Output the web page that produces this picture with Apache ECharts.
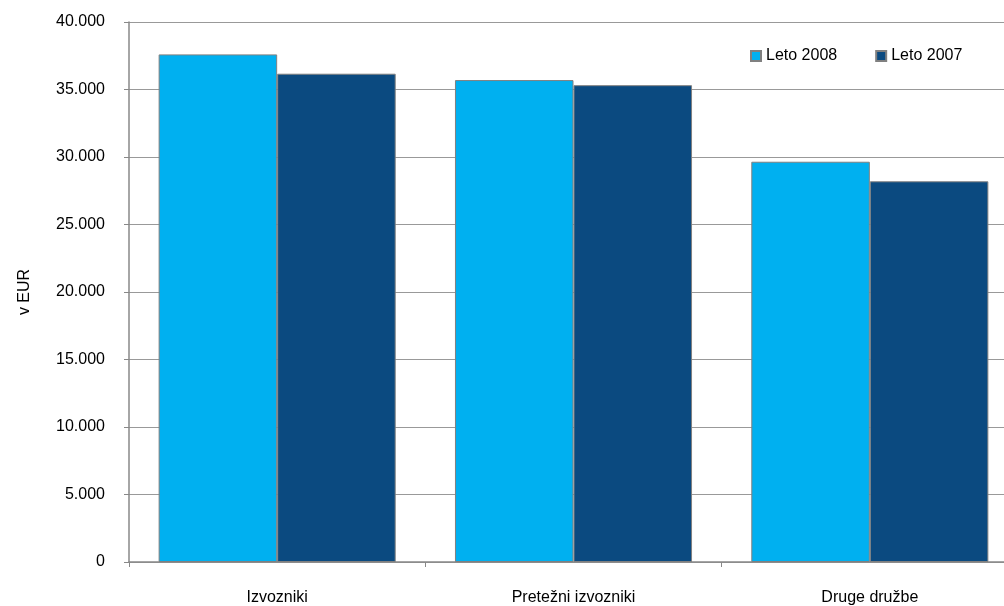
<!DOCTYPE html>
<html>
<head>
<meta charset="utf-8">
<script src="https://cdn.jsdelivr.net/npm/echarts@6/dist/echarts.min.js"></script>
<style>
html,body{margin:0;padding:0;background:#fff;overflow:hidden;width:1004px;height:606px;}
#chart{width:1018px;height:606px;}
</style>
</head>
<body>
<div id="chart"></div>
<script>
var categories = ['Izvozniki', 'Pretežni izvozniki', 'Druge družbe'];
var seriesNames = ['Leto 2008', 'Leto 2007'];
var values2008 = [37600, 35700, 29650];
var values2007 = [36170, 35320, 28200];
var yTicks = { min: 0, max: 40000, interval: 5000 };

var FONT = '"Liberation Sans", Arial, sans-serif';

function fmt(v) {
  return String(v).replace(/\B(?=(\d{3})+(?!\d))/g, '.');
}

var chart = echarts.init(document.getElementById('chart'), null, { renderer: 'canvas' });
chart.setOption({
  animation: false,
  backgroundColor: '#ffffff',
  textStyle: { fontFamily: FONT },
  legend: {
    data: seriesNames,
    left: 745,
    top: 43,
    itemWidth: 10,
    itemHeight: 10,
    itemGap: 38,
    icon: 'rect',
    textStyle: { fontFamily: FONT, fontSize: 16, color: '#000' }
  },
  grid: { left: 129, right: 0, top: 22, bottom: 44, containLabel: false },
  xAxis: {
    type: 'category',
    data: categories,
    axisLine: { lineStyle: { color: '#888', width: 1.5 } },
    axisTick: { show: true, length: 5, lineStyle: { color: '#888' } },
    axisLabel: { margin: 28, fontSize: 16, color: '#000', fontFamily: FONT }
  },
  yAxis: {
    type: 'value',
    min: yTicks.min,
    max: yTicks.max,
    interval: yTicks.interval,
    name: 'v EUR',
    nameLocation: 'middle',
    nameGap: 96,
    nameRotate: 90,
    nameTextStyle: { fontSize: 16, color: '#000', fontFamily: FONT },
    axisLine: { show: true, lineStyle: { color: '#888', width: 1.5 } },
    axisTick: { show: true, length: 5, lineStyle: { color: '#888' } },
    axisLabel: { margin: 24, fontSize: 16, color: '#000', fontFamily: FONT, formatter: fmt },
    splitLine: { show: true, lineStyle: { color: '#999', width: 1.2 } }
  },
  series: [
    {
      name: seriesNames[0],
      type: 'bar',
      data: values2008,
      barGap: '0%',
      barCategoryGap: '20%',
      itemStyle: { color: '#00B0F0', borderColor: '#808080', borderWidth: 1 }
    },
    {
      name: seriesNames[1],
      type: 'bar',
      data: values2007,
      barGap: '0%',
      barCategoryGap: '20%',
      itemStyle: { color: '#0B4A80', borderColor: '#808080', borderWidth: 1 }
    }
  ]
});
</script>
</body>
</html>
